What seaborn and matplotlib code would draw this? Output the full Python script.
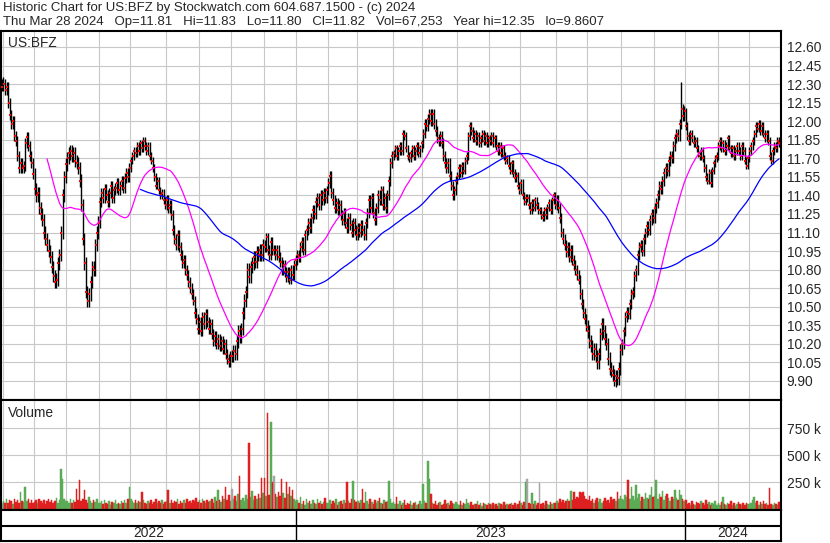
#Imports
import numpy as np
import pandas as pd
import matplotlib
matplotlib.use("Agg")
import matplotlib.pyplot as plt
import seaborn as sns

#Trading calendar
start_date = "2022-03-31"
end_date = "2024-03-28"
holidays = [
    "2022-04-15", "2022-05-30", "2022-06-20", "2022-07-04", "2022-09-05",
    "2022-11-24", "2022-12-26", "2023-01-02", "2023-01-16", "2023-02-20",
    "2023-04-07", "2023-05-29", "2023-06-19", "2023-07-04", "2023-09-04",
    "2023-11-23", "2023-12-25", "2024-01-01", "2024-01-15", "2024-02-19",
]

#Daily closes (one line per month)
closes_2022 = [
    12.28,
    12.30, 12.25, 12.28, 12.15, 12.05, 11.98, 12.00, 11.88, 11.84, 11.72, 11.62, 11.66, 11.62, 11.64, 11.82, 11.87, 11.80, 11.72, 11.66, 11.57,
    11.45, 11.40, 11.42, 11.30, 11.25, 11.20, 11.10, 11.05, 11.00, 10.95, 10.90, 10.82, 10.75, 10.70, 10.72, 10.85, 10.92, 11.10, 11.40, 11.55, 11.65,
    11.70, 11.74, 11.76, 11.72, 11.74, 11.68, 11.66, 11.62, 11.52, 11.32, 11.05, 10.85, 10.62, 10.55, 10.60, 10.70, 10.82, 10.80, 11.00, 11.10, 11.18,
    11.35, 11.42, 11.38, 11.45, 11.40, 11.35, 11.42, 11.48, 11.38, 11.44, 11.46, 11.50, 11.44, 11.48, 11.52, 11.46, 11.54, 11.58, 11.55, 11.62,
    11.68, 11.72, 11.76, 11.74, 11.80, 11.76, 11.82, 11.78, 11.84, 11.80, 11.76, 11.80, 11.72, 11.68, 11.62, 11.55, 11.48, 11.52, 11.44, 11.40, 11.42, 11.36, 11.32,
    11.36, 11.30, 11.32, 11.24, 11.12, 11.05, 11.00, 11.08, 10.98, 10.92, 10.85, 10.88, 10.80, 10.76, 10.70, 10.65, 10.60, 10.55, 10.45, 10.40, 10.32,
    10.38, 10.30, 10.42, 10.36, 10.44, 10.38, 10.32, 10.36, 10.28, 10.22, 10.26, 10.20, 10.24, 10.18, 10.22, 10.16, 10.20, 10.12, 10.08, 10.05, 10.10,
    10.10, 10.14, 10.12, 10.22, 10.30, 10.26, 10.32, 10.45, 10.55, 10.62, 10.80, 10.74, 10.82, 10.85, 10.90, 10.86, 10.94, 10.92, 10.96, 10.92, 11.00,
    10.98, 11.06, 10.96, 10.92, 11.02, 10.96, 10.96, 10.92, 10.96, 10.90, 10.86, 10.80, 10.84, 10.78, 10.74, 10.78, 10.72, 10.80, 10.76, 10.84, 10.88,
]
closes_2023 = [
    10.92, 10.90, 10.98, 11.02, 10.96, 11.08, 11.12, 11.18, 11.14, 11.22, 11.28, 11.25, 11.35, 11.38, 11.32, 11.40, 11.36, 11.42, 11.38, 11.44,
    11.50, 11.56, 11.42, 11.36, 11.30, 11.34, 11.28, 11.32, 11.24, 11.20, 11.26, 11.18, 11.14, 11.22, 11.16, 11.10, 11.18, 11.12, 11.08,
    11.14, 11.10, 11.16, 11.12, 11.08, 11.18, 11.26, 11.36, 11.30, 11.38, 11.26, 11.20, 11.30, 11.40, 11.36, 11.44, 11.32, 11.38, 11.30, 11.40, 11.52, 11.66, 11.72,
    11.74, 11.78, 11.72, 11.76, 11.80, 11.76, 11.90, 11.88, 11.78, 11.72, 11.70, 11.74, 11.78, 11.72, 11.76, 11.80, 11.74, 11.78, 11.82,
    11.90, 11.98, 11.96, 12.02, 12.06, 12.00, 12.06, 11.98, 11.92, 11.86, 11.84, 11.88, 11.82, 11.72, 11.66, 11.62, 11.66, 11.56, 11.48, 11.40, 11.44, 11.52,
    11.56, 11.62, 11.58, 11.64, 11.60, 11.68, 11.72, 11.88, 11.96, 11.92, 11.86, 11.90, 11.84, 11.88, 11.82, 11.86, 11.90, 11.84, 11.88, 11.82, 11.86,
    11.84, 11.88, 11.82, 11.86, 11.80, 11.76, 11.80, 11.74, 11.78, 11.72, 11.68, 11.70, 11.64, 11.60, 11.66, 11.58, 11.54, 11.56, 11.48, 11.44,
    11.50, 11.40, 11.35, 11.38, 11.38, 11.32, 11.28, 11.34, 11.30, 11.36, 11.32, 11.28, 11.28, 11.24, 11.22, 11.28, 11.24, 11.30, 11.34, 11.28, 11.36, 11.40, 11.32,
    11.36, 11.30, 11.22, 11.10, 11.05, 11.00, 10.94, 10.98, 10.90, 10.96, 10.88, 10.84, 10.80, 10.76, 10.72, 10.60, 10.52, 10.45, 10.40, 10.34,
    10.30, 10.22, 10.18, 10.12, 10.16, 10.10, 10.05, 10.12, 10.28, 10.36, 10.30, 10.24, 10.20, 10.08, 10.00, 9.98, 9.95, 9.90, 9.94, 9.92, 10.00, 10.15,
    10.20, 10.30, 10.42, 10.46, 10.44, 10.52, 10.60, 10.62, 10.75, 10.80, 10.92, 10.98, 11.00, 10.95, 11.05, 11.10, 11.15, 11.12, 11.20, 11.25, 11.22,
    11.30, 11.34, 11.40, 11.48, 11.45, 11.52, 11.58, 11.62, 11.60, 11.68, 11.72, 11.70, 11.80, 11.86, 11.90, 11.88, 11.98, 12.10, 12.04, 12.08,
]
closes_2024 = [
    11.96, 11.88, 11.84, 11.90, 11.86, 11.82, 11.84, 11.78, 11.74, 11.72, 11.76, 11.70, 11.62, 11.55, 11.52, 11.58, 11.50, 11.60, 11.66, 11.70, 11.72,
    11.80, 11.84, 11.78, 11.82, 11.76, 11.80, 11.86, 11.78, 11.74, 11.78, 11.72, 11.76, 11.80, 11.76, 11.72, 11.80, 11.76, 11.68, 11.64, 11.70,
    11.76, 11.80, 11.84, 11.90, 11.96, 11.94, 11.98, 11.92, 11.96, 11.90, 11.86, 11.90, 11.84, 11.72, 11.68, 11.76, 11.80, 11.78, 11.84, 11.82,
]

#Daily volume in thousands (one line per month)
volumes_2022 = [
    60,
    70, 55, 95, 60, 80, 75, 50, 90, 65, 85, 60, 155, 70, 65, 200, 75, 90, 60, 85, 55,
    65, 80, 55, 95, 70, 60, 85, 50, 75, 90, 65, 80, 55, 70, 100, 60, 85, 370, 275, 90, 70,
    75, 60, 90, 55, 80, 65, 190, 85, 265, 70, 95, 175, 80, 60, 110, 70, 55, 85, 65, 90, 60,
    55, 70, 45, 80, 60, 50, 75, 40, 65, 55, 85, 50, 60, 45, 70, 55, 80, 60, 90, 200,
    95, 70, 60, 80, 55, 75, 65, 160, 85, 60, 50, 70, 55, 80, 45, 65, 90, 55, 70, 60, 85, 50, 65,
    70, 180, 60, 85, 55, 75, 65, 90, 50, 70, 60, 80, 55, 95, 65, 75, 60, 85, 70, 100, 65,
    80, 60, 95, 70, 55, 85, 65, 75, 90, 60, 110, 70, 175, 85, 65, 120, 95, 200, 80, 130, 70,
    190, 90, 120, 75, 140, 310, 85, 105, 70, 130, 95, 610, 110, 170, 80, 125, 95, 140, 100, 290, 150,
    290, 120, 890, 130, 805, 250, 310, 140, 110, 160, 125, 280, 150, 105, 250, 135, 200, 120, 180, 95, 70,
]
volumes_2023 = [
    85, 60, 110, 50, 75, 40, 95, 55, 70, 45, 80, 60, 50, 90, 55, 70, 45, 65, 100, 55,
    60, 80, 45, 70, 55, 90, 40, 65, 75, 50, 85, 60, 250, 70, 55, 95, 260, 80, 65,
    70, 55, 85, 190, 60, 160, 75, 50, 90, 65, 45, 80, 55, 70, 100, 60, 50, 85, 65, 75, 260, 90, 60,
    65, 45, 110, 50, 70, 35, 55, 80, 40, 60, 45, 75, 35, 55, 65, 40, 50, 70, 45,
    230, 70, 55, 445, 275, 140, 60, 45, 75, 40, 55, 65, 35, 50, 80, 45, 60, 40, 70, 55, 45, 65,
    50, 40, 70, 35, 60, 45, 90, 55, 40, 65, 35, 50, 45, 75, 40, 55, 30, 60, 45, 40, 55,
    45, 35, 60, 40, 50, 30, 55, 45, 35, 65, 40, 50, 35, 45, 60, 40, 55, 35, 50, 70,
    55, 40, 65, 255, 275, 60, 45, 150, 50, 70, 40, 55, 240, 45, 60, 35, 75, 50, 40, 65, 45, 55, 60,
    70, 55, 90, 65, 80, 60, 75, 95, 70, 165, 85, 160, 90, 110, 100, 160, 150, 160, 120, 95,
    85, 120, 70, 95, 60, 80, 105, 65, 90, 55, 75, 100, 70, 85, 60, 110, 80, 95, 70, 160, 90, 120,
    95, 80, 130, 110, 265, 90, 200, 120, 85, 220, 100, 140, 75, 115, 95, 150, 105, 90, 130, 205, 110,
    120, 265, 95, 140, 110, 165, 85, 125, 140, 100, 75, 115, 90, 180, 105, 80, 180, 130, 95, 70,
]
volumes_2024 = [
    80, 45, 60, 35, 70, 50, 40, 65, 55, 45, 75, 60, 40, 85, 50, 65, 35, 55, 45, 70, 40,
    55, 40, 65, 115, 50, 35, 60, 45, 70, 40, 55, 30, 50, 65, 45, 35, 55, 40, 60, 50,
    45, 60, 80, 115, 55, 70, 40, 65, 50, 75, 45, 60, 35, 195, 50, 40, 55, 45, 35, 67,
]

#Typical intraday wick per month (cents), Mar 2022 .. Mar 2024
wick_cents = [4, 4, 5, 5, 4, 3, 4, 4, 5, 4, 4, 4, 4, 3, 4, 3, 3, 3, 4, 5, 4, 4, 3, 3, 3]
high_marks = {1: 12.36, 437: 12.32}
low_marks = {394: 9.86}
first_open = 12.30

#Build frame
dates = pd.bdate_range(start_date, end_date, freq="C", holidays=holidays)
close = np.array(closes_2022 + closes_2023 + closes_2024)
volume = np.array(volumes_2022 + volumes_2023 + volumes_2024) * 1000
assert len(dates) == len(close) == len(volume), (len(dates), len(close), len(volume))

df = pd.DataFrame({"date": dates, "close": close, "volume": volume})
df["idx"] = np.arange(len(df))
df["open"] = df["close"].shift(1).fillna(first_open)
month_code = pd.factorize(df["date"].dt.to_period("M"))[0]
wick = np.array(wick_cents)[month_code] / 100
df["high"] = df[["open", "close"]].max(axis=1) + wick
df["low"] = df[["open", "close"]].min(axis=1) - wick
for k, v in high_marks.items():
    df.loc[k, "high"] = v
for k, v in low_marks.items():
    df.loc[k, "low"] = v
df["ma30"] = df["close"].rolling(30).mean()
df["ma90"] = df["close"].rolling(90).mean()
change = df["close"].diff().fillna(0).round(4)
df["dir"] = np.where(change > 0, "up", np.where(change < 0, "down", "flat"))

month_edges = df.index[month_code != np.roll(month_code, 1)][1:] - 0.5
year_code = df["date"].dt.year.values
year_edges = list(df.index[year_code != np.roll(year_code, 1)][1:] - 0.5)

#Style
sns.set_style("white")
plt.rcParams["font.family"] = ["Liberation Sans", "DejaVu Sans"]
grid_col = "#c8c8c8"
fs = 9.9
W, H = 830, 543

def box(x0, y0, x1, y1):
    return [x0 / W, 1 - y1 / H, (x1 - x0) / W, (y1 - y0) / H]

fig = plt.figure(figsize=(W / 100, H / 100), dpi=100)
ax = fig.add_axes(box(1, 31, 781, 400))
axv = fig.add_axes(box(1, 400, 781, 510))
axb = fig.add_axes(box(1, 510, 781, 541))
xlim = (-0.6, len(df) + 0.3)

for a in (ax, axv, axb):
    a.set_xlim(*xlim)
    for s in a.spines.values():
        s.set_color("black")
        s.set_linewidth(1.5)
    a.set_xticks([])

#Price panel
for m in month_edges:
    ax.axvline(m, color=grid_col, lw=0.8, zorder=0)
    axv.axvline(m, color=grid_col, lw=0.8, zorder=0)
price_ticks = np.linspace(9.90, 12.60, 19)
ax.set_ylim(9.746, 12.729)
ax.set_yticks(price_ticks)
ax.set_yticklabels([f"{t:.2f}" for t in price_ticks])
for t in price_ticks:
    ax.axhline(t, color=grid_col, lw=0.8, zorder=0)
ax.yaxis.tick_right()
ax.tick_params(axis="y", length=0, pad=4, labelsize=fs)

ax.vlines(df["idx"], df["low"], df["high"], color="black", lw=1.0, zorder=2)
sns.scatterplot(x=df["idx"] + 0.3, y=df["close"], marker="s", s=3,
                color="red", linewidth=0, ax=ax, zorder=3)
sns.lineplot(data=df, x="idx", y="ma30", color="#ff00ff", lw=0.9, ax=ax, zorder=4)
sns.lineplot(data=df, x="idx", y="ma90", color="#0000ff", lw=0.9, ax=ax, zorder=4)
ax.set_xlim(*xlim)
ax.set_xlabel("")
ax.set_ylabel("")
ax.set_xticks([])

#Volume panel
sns.barplot(data=df, x="idx", y="volume", hue="dir",
            palette={"up": "#4db848", "down": "#ff0000", "flat": "#a6a6a6"},
            native_scale=True, dodge=False, width=1.0, linewidth=0,
            legend=False, ax=axv, zorder=2)
for p in axv.patches:
    p.set_edgecolor(p.get_facecolor())
    p.set_linewidth(0.35)
axv.set_xlim(*xlim)
axv.set_ylim(-9000, 1010000)
vol_ticks = [250000, 500000, 750000]
axv.set_yticks(vol_ticks)
axv.set_yticklabels([f"{t // 1000} k" for t in vol_ticks])
for t in vol_ticks:
    axv.axhline(t, color=grid_col, lw=0.8, zorder=0)
axv.yaxis.tick_right()
axv.tick_params(axis="y", length=0, pad=4, labelsize=fs)
axv.set_xlabel("")
axv.set_ylabel("")
axv.set_xticks([])

#Year band
axb.set_ylim(0, 2)
axb.set_yticks([])
axb.axhline(1, color="black", lw=1.5)
for e in year_edges:
    axb.axvline(e, color="black", lw=1.0)
bounds = [xlim[0]] + year_edges + [xlim[1]]
for yr, (a0, a1) in zip(sorted(set(year_code)), zip(bounds[:-1], bounds[1:])):
    axb.text((a0 + a1) / 2, 0.5, str(yr), ha="center", va="center", fontsize=fs)

#Labels
fig.text(8 / W, 1 - 43 / H, "US:BFZ", va="center", fontsize=fs)
fig.text(8 / W, 1 - 413 / H, "Volume", va="center", fontsize=fs)
fig.text(3 / W, 1 - 8 / H,
         "Historic Chart for US:BFZ by Stockwatch.com 604.687.1500 - (c) 2024",
         va="center", fontsize=9.5)
fig.text(3 / W, 1 - 22 / H,
         "Thu Mar 28 2024   Op=11.81   Hi=11.83   Lo=11.80   Cl=11.82   "
         "Vol=67,253   Year hi=12.35   lo=9.8607",
         va="center", fontsize=9.5)

fig.savefig("out.png", dpi=100)
